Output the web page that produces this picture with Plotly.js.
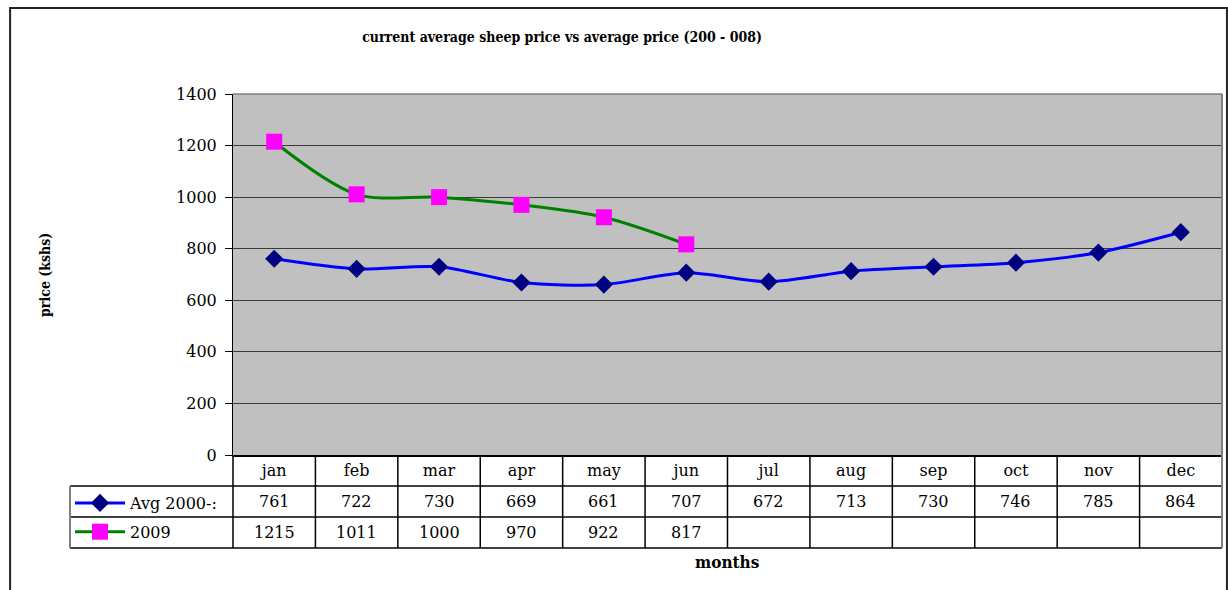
<!DOCTYPE html>
<html>
<head>
<meta charset="utf-8">
<script src="https://cdn.plot.ly/plotly-3.0.1.min.js"></script>
<style>html,body{margin:0;padding:0;background:#fff;}#chart{width:1228px;height:590px;}</style>
</head>
<body>
<div id="chart"></div>
<script>
const months = ['jan','feb','mar','apr','may','jun','jul','aug','sep','oct','nov','dec'];
const avgName = 'Avg 2000-:';
const avgValues = [761, 722, 730, 669, 661, 707, 672, 713, 730, 746, 785, 864];
const y2009Name = '2009';
const y2009Values = [1215, 1011, 1000, 970, 922, 817];
const titleText = 'current average sheep price vs average price (200 - 008)';
const yTitle = 'price (kshs)';
const xTitle = 'months';

const serif = 'DejaVu Serif, Liberation Serif, serif';
const serifBold = 'DejaVu Serif Condensed, DejaVu Serif, Liberation Serif, serif';

// table geometry in paper units
const rowTop = 0.20485, row1 = 0.13656, row2 = 0.06828;
const row1Center = (row1 + row2) / 2, row2Center = row2 / 2;

const traces = [
  {
    x: months, y: avgValues, name: avgName, type: 'scatter', mode: 'lines+markers',
    line: {color: '#0000FF', width: 3, shape: 'spline', smoothing: 0.8},
    marker: {symbol: 'diamond', color: '#000080', size: 14},
    legendgroup: 'a'
  },
  {
    x: months.slice(0, y2009Values.length), y: y2009Values, name: y2009Name, type: 'scatter', mode: 'lines+markers',
    line: {color: '#008000', width: 3, shape: 'spline', smoothing: 0.9},
    marker: {symbol: 'square', color: '#FF00FF', size: 16},
    legendgroup: 'b'
  }
];

const shapes = [];
const lineBlack = {color: '#000', width: 1.5};
// horizontal table lines
[row1, row2, 0].forEach(function (yy) {
  shapes.push({type: 'line', xref: 'paper', yref: 'paper', x0: 0, x1: 1, y0: yy, y1: yy, line: lineBlack});
});
// left edge of legend column
shapes.push({type: 'line', xref: 'paper', yref: 'paper', x0: 0, x1: 0, y0: 0, y1: row1, line: {color: '#808080', width: 2}});
// left edge of month column block
shapes.push({type: 'line', xref: 'x domain', yref: 'paper', x0: 0, x1: 0, y0: 0, y1: rowTop, line: lineBlack});
// right edge
shapes.push({type: 'line', xref: 'x domain', yref: 'paper', x0: 1, x1: 1, y0: 0, y1: 1, line: {color: '#808080', width: 2}});
// top edge of plot
shapes.push({type: 'line', xref: 'x domain', yref: 'y domain', x0: 0, x1: 1, y0: 1, y1: 1, line: {color: '#808080', width: 1.5}});
// separators between month columns
for (let k = 0; k < months.length - 1; k++) {
  shapes.push({type: 'line', xref: 'x', yref: 'paper', x0: k + 0.5, x1: k + 0.5, y0: 0, y1: rowTop, line: lineBlack});
}
// outer frame
shapes.push({type: 'rect', xref: 'paper', yref: 'paper', x0: -0.052, x1: 1.0043, y0: -0.2, y1: 1.1894, line: {color: '#222', width: 2}, fillcolor: 'rgba(0,0,0,0)'});

const annotations = [];
months.forEach(function (m, i) {
  annotations.push({xref: 'x', yref: 'paper', x: m, y: row1Center, xanchor: 'center', yanchor: 'middle', text: String(avgValues[i]), showarrow: false, font: {family: serif, size: 16, color: '#000'}});
  if (i < y2009Values.length) {
    annotations.push({xref: 'x', yref: 'paper', x: m, y: row2Center, xanchor: 'center', yanchor: 'middle', text: String(y2009Values[i]), showarrow: false, font: {family: serif, size: 16, color: '#000'}});
  }
});
annotations.push({xref: 'paper', yref: 'paper', x: -0.0217, y: 0.6013, xanchor: 'center', yanchor: 'middle', text: '<b>' + yTitle + '</b>', textangle: -90, showarrow: false, font: {family: serifBold, size: 14, color: '#000'}});
annotations.push({xref: 'x domain', yref: 'paper', x: 0.5, y: -0.0308, xanchor: 'center', yanchor: 'middle', text: '<b>' + xTitle + '</b>', showarrow: false, font: {family: serifBold, size: 17, color: '#000'}});

const layout = {
  width: 1228, height: 590,
  margin: {l: 70, r: 6, t: 94, b: 42, autoexpand: false},
  paper_bgcolor: '#fff',
  plot_bgcolor: '#C0C0C0',
  title: {text: '<b>' + titleText + '</b>', xref: 'container', yref: 'container', x: 0.4577, xanchor: 'center', y: 0.937, yanchor: 'middle', font: {family: serifBold, size: 14, color: '#000'}},
  xaxis: {
    type: 'category', categoryarray: months, range: [-0.5, 11.5], domain: [0.14149, 1],
    showgrid: false, zeroline: false, showline: true, linecolor: '#000', linewidth: 2,
    ticks: '', ticklabelstandoff: 0, tickfont: {family: serif, size: 16, color: '#000'},
    fixedrange: true
  },
  yaxis: {
    range: [0, 1400], dtick: 200, domain: [0.20485, 1],
    showgrid: true, gridcolor: '#3a3a3a', gridwidth: 1, zeroline: false,
    showline: true, linecolor: '#000', linewidth: 1,
    ticks: 'outside', ticklen: 7, tickcolor: '#000', ticklabelstandoff: 5,
    tickfont: {family: serif, size: 16, color: '#000'}, fixedrange: true
  },
  showlegend: true,
  legend: {
    x: 0, xanchor: 'left', y: row1, yanchor: 'top',
    traceorder: 'grouped', tracegroupgap: 5, itemwidth: 50,
    bgcolor: 'rgba(0,0,0,0)', borderwidth: 0,
    font: {family: serif, size: 16, color: '#000'}
  },
  shapes: shapes,
  annotations: annotations
};

Plotly.newPlot('chart', traces, layout, {displayModeBar: false, staticPlot: true});
</script>
</body>
</html>
